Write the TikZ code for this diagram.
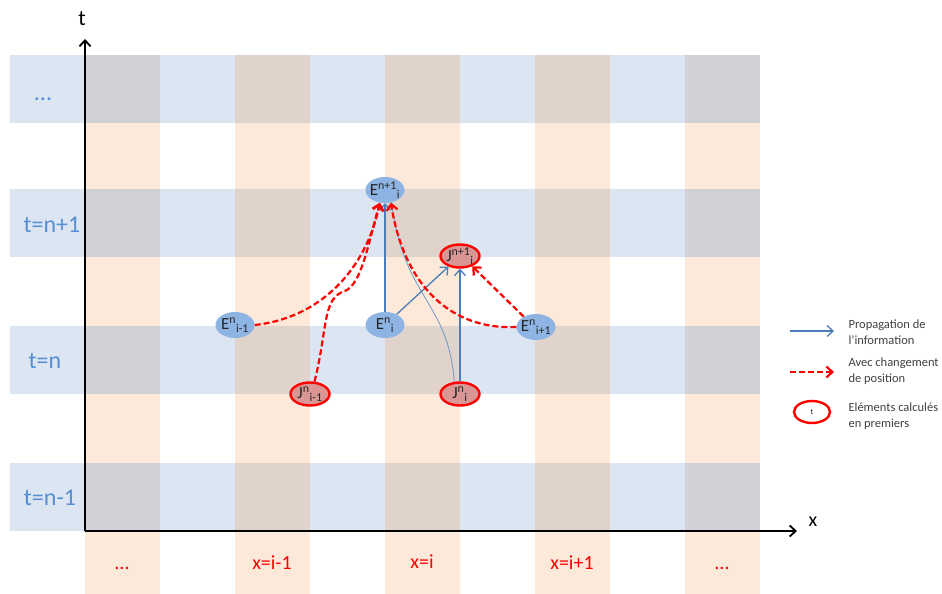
\documentclass[tikz,border=0pt]{standalone}
\usepackage{fontspec}
\setmainfont{Carlito}
\usepackage{tikz}
\usetikzlibrary{arrows.meta, shapes.geometric}
\definecolor{bandblue}{RGB}{220,230,242}
\definecolor{stripeorange}{RGB}{253,233,217}
\definecolor{crossgray}{RGB}{209,209,214}
\definecolor{crossbrown}{RGB}{224,211,204}
\definecolor{ellblue}{RGB}{142,180,227}
\definecolor{ellred}{RGB}{217,150,148}
\definecolor{propblue}{RGB}{74,126,187}
\definecolor{labelblue}{RGB}{85,142,213}
\definecolor{legendgray}{RGB}{64,64,64}
\tikzset{
    enode/.style={
        ellipse,
        fill=ellblue,
        minimum width=39pt,
        minimum height=26pt,
        inner xsep=-6pt,
        inner ysep=-3pt,
        text=black!85,
        font=\fontsize{17}{18}\selectfont
    },
    jnode/.style={
        ellipse,
        draw=red,
        fill=ellred,
        line width=2.4pt,
        minimum width=39pt,
        minimum height=23pt,
        inner xsep=-6pt,
        inner ysep=-3pt,
        text=black!85,
        font=\fontsize{17}{18}\selectfont
    },
    bandlabel/.style={
        anchor=base,
        text=labelblue,
        font=\fontsize{24}{28}\selectfont
    },
    poslabel/.style={
        anchor=base,
        text=red,
        font=\fontsize{20}{24}\selectfont
    },
    legtext/.style={
        anchor=west,
        align=left,
        text=legendgray,
        font=\fontsize{12.5}{15.5}\selectfont
    },
    axis/.style={
        -{Straight Barb[length=6pt,width=11pt]},
        line width=1.8pt
    },
    prop/.style={
        -{Straight Barb[length=6pt,width=11pt]},
        draw=propblue,
        line width=1.3pt
    },
    propthin/.style={
        draw=propblue!80,
        line width=0.8pt
    },
    move/.style={
        -{Straight Barb[length=6pt,width=11pt]},
        draw=red,
        line width=2.2pt,
        dash pattern=on 6pt off 3pt
    }
}
\begin{document}
\begin{tikzpicture}[x=1pt, y=-1pt]
    \useasboundingbox (0,0) rectangle (942,594);
    \foreach \y in {55,189,326,463} {
        \fill[bandblue] (10,\y) rectangle (760,\y+68);
    }
    \foreach \x in {85,235,385,535,685} {
        \fill[stripeorange] (\x,55) rectangle (\x+75,594);
    }
    \foreach \x/\c in {85/crossgray,235/crossbrown,385/crossbrown,535/crossbrown,685/crossgray} {
        \foreach \y in {55,189,326,463} {
            \fill[\c] (\x,\y) rectangle (\x+75,\y+68);
        }
    }

    \coordinate (origin) at (85,531);
    \coordinate (ttop) at (85,39);
    \coordinate (xend) at (797,531);
    \draw[axis] (origin) -- (ttop);
    \draw[axis] (origin) -- (xend);
    \node[font=\fontsize{22}{24}\selectfont] (tlab) at (82,19) {t};
    \node[font=\fontsize{20}{24}\selectfont] (xlab) at (813,522) {x};

    \node[bandlabel] (lbltop) at (43,100) {...};
    \node[bandlabel] (lblnp1) at (52,232) {t=n+1};
    \node[bandlabel] (lbln) at (45,368) {t=n};
    \node[bandlabel] (lblnm1) at (50,505) {t=n-1};

    \node[poslabel] (xdotsl) at (122,569) {...};
    \node[poslabel] (xim1) at (272,569) {x=i-1};
    \node[poslabel] (xi) at (422,568) {x=i};
    \node[poslabel] (xip1) at (572,569) {x=i+1};
    \node[poslabel] (xdotsr) at (722,569) {...};

    \node[enode] (Eup) at (385,190) {E\textsuperscript{n+1}\textsubscript{i}};
    \node[jnode] (Jup) at (460,256) {J\textsuperscript{n+1}\textsubscript{i}};
    \node[enode] (Eleft) at (235,325) {E\textsuperscript{n}\textsubscript{i-1}};
    \node[enode] (Emid) at (385,325) {E\textsuperscript{n}\textsubscript{i}};
    \node[enode] (Eright) at (536,327) {E\textsuperscript{n}\textsubscript{i+1}};
    \node[jnode] (Jleft) at (310,394) {J\textsuperscript{n}\textsubscript{i-1}};
    \node[jnode] (Jmid) at (460,394) {J\textsuperscript{n}\textsubscript{i}};

    \draw[propthin] (Jmid.115) .. controls (448,300) and (404,300) .. (Eup.-62);
    \draw[prop] (Emid) -- (Eup);
    \draw[prop] (Emid) -- (Jup);
    \draw[prop] (Jmid) -- (Jup);
    \draw[move] (Eleft.east) .. controls (320,318) and (366,270) .. (Eup.-112);
    \draw[move] (Jleft.70) .. controls (328,328) and (322,298) .. (345,291)
        .. controls (362,284) and (369,240) .. (Eup.-112);
    \draw[move] (Eright.west) .. controls (450,330) and (404,285) .. (Eup.-65);
    \draw[move] (Eright.140) -- (Jup.-40);

    \coordinate (propA) at (790,331);
    \coordinate (propB) at (834,331);
    \draw[prop] (propA) -- (propB);
    \node[legtext] (legprop) at (845,332) {Propagation de\\l’information};
    \coordinate (moveA) at (790,372);
    \coordinate (moveB) at (834,372);
    \draw[move] (moveA) -- (moveB);
    \node[legtext] (legmove) at (845,371) {Avec changement\\de position};
    \node[jnode, fill=white, minimum width=36pt, minimum height=22pt,
        font=\fontsize{8}{9}\selectfont] (legcirc) at (812,412) {t};
    \node[legtext] (legfirst) at (845,416) {Eléments calculés\\en premiers};
\end{tikzpicture}
\end{document}
